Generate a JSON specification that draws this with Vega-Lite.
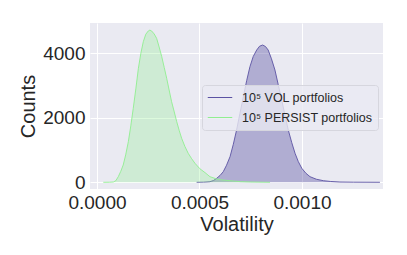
{
  "$schema": "https://vega.github.io/schema/vega-lite/v6.json",
  "width": 293,
  "height": 166,
  "autosize": "none",
  "padding": {"left": 90, "top": 23, "right": 24, "bottom": 66},
  "background": "white",
  "config": {
    "view": {"fill": "#EAEAF2", "stroke": null},
    "font": "Liberation Sans"
  },
  "datasets": {
    "curves": [
      {"series": "10⁵ VOL portfolios", "vol": 0.000486, "count": 0},
      {"series": "10⁵ VOL portfolios", "vol": 0.00052, "count": 5},
      {"series": "10⁵ VOL portfolios", "vol": 0.000551, "count": 19},
      {"series": "10⁵ VOL portfolios", "vol": 0.000568, "count": 55},
      {"series": "10⁵ VOL portfolios", "vol": 0.000584, "count": 124},
      {"series": "10⁵ VOL portfolios", "vol": 0.0006, "count": 210},
      {"series": "10⁵ VOL portfolios", "vol": 0.000616, "count": 329},
      {"series": "10⁵ VOL portfolios", "vol": 0.000632, "count": 530},
      {"series": "10⁵ VOL portfolios", "vol": 0.000649, "count": 794},
      {"series": "10⁵ VOL portfolios", "vol": 0.000665, "count": 1180},
      {"series": "10⁵ VOL portfolios", "vol": 0.000681, "count": 1622},
      {"series": "10⁵ VOL portfolios", "vol": 0.000697, "count": 2130},
      {"series": "10⁵ VOL portfolios", "vol": 0.000714, "count": 2654},
      {"series": "10⁵ VOL portfolios", "vol": 0.00073, "count": 3150},
      {"series": "10⁵ VOL portfolios", "vol": 0.000746, "count": 3585},
      {"series": "10⁵ VOL portfolios", "vol": 0.000762, "count": 3900},
      {"series": "10⁵ VOL portfolios", "vol": 0.000779, "count": 4102},
      {"series": "10⁵ VOL portfolios", "vol": 0.000793, "count": 4220},
      {"series": "10⁵ VOL portfolios", "vol": 0.000808, "count": 4257},
      {"series": "10⁵ VOL portfolios", "vol": 0.000822, "count": 4210},
      {"series": "10⁵ VOL portfolios", "vol": 0.000835, "count": 4102},
      {"series": "10⁵ VOL portfolios", "vol": 0.000851, "count": 3830},
      {"series": "10⁵ VOL portfolios", "vol": 0.000868, "count": 3482},
      {"series": "10⁵ VOL portfolios", "vol": 0.000884, "count": 3030},
      {"series": "10⁵ VOL portfolios", "vol": 0.000901, "count": 2552},
      {"series": "10⁵ VOL portfolios", "vol": 0.000917, "count": 2080},
      {"series": "10⁵ VOL portfolios", "vol": 0.000933, "count": 1622},
      {"series": "10⁵ VOL portfolios", "vol": 0.00095, "count": 1230},
      {"series": "10⁵ VOL portfolios", "vol": 0.000966, "count": 900},
      {"series": "10⁵ VOL portfolios", "vol": 0.000982, "count": 640},
      {"series": "10⁵ VOL portfolios", "vol": 0.000999, "count": 434},
      {"series": "10⁵ VOL portfolios", "vol": 0.001019, "count": 280},
      {"series": "10⁵ VOL portfolios", "vol": 0.001039, "count": 174},
      {"series": "10⁵ VOL portfolios", "vol": 0.00107, "count": 95},
      {"series": "10⁵ VOL portfolios", "vol": 0.001104, "count": 50},
      {"series": "10⁵ VOL portfolios", "vol": 0.00114, "count": 25},
      {"series": "10⁵ VOL portfolios", "vol": 0.001185, "count": 9},
      {"series": "10⁵ VOL portfolios", "vol": 0.00125, "count": 3},
      {"series": "10⁵ VOL portfolios", "vol": 0.00138, "count": 0},
      {"series": "10⁵ PERSIST portfolios", "vol": 0.000031, "count": 0},
      {"series": "10⁵ PERSIST portfolios", "vol": 0.00006, "count": 2},
      {"series": "10⁵ PERSIST portfolios", "vol": 0.00008, "count": 10},
      {"series": "10⁵ PERSIST portfolios", "vol": 0.000092, "count": 50},
      {"series": "10⁵ PERSIST portfolios", "vol": 0.000104, "count": 174},
      {"series": "10⁵ PERSIST portfolios", "vol": 0.000116, "count": 340},
      {"series": "10⁵ PERSIST portfolios", "vol": 0.000128, "count": 536},
      {"series": "10⁵ PERSIST portfolios", "vol": 0.00014, "count": 850},
      {"series": "10⁵ PERSIST portfolios", "vol": 0.000153, "count": 1259},
      {"series": "10⁵ PERSIST portfolios", "vol": 0.000165, "count": 1750},
      {"series": "10⁵ PERSIST portfolios", "vol": 0.000177, "count": 2295},
      {"series": "10⁵ PERSIST portfolios", "vol": 0.00019, "count": 2920},
      {"series": "10⁵ PERSIST portfolios", "vol": 0.000202, "count": 3535},
      {"series": "10⁵ PERSIST portfolios", "vol": 0.000214, "count": 4000},
      {"series": "10⁵ PERSIST portfolios", "vol": 0.000226, "count": 4360},
      {"series": "10⁵ PERSIST portfolios", "vol": 0.000238, "count": 4590},
      {"series": "10⁵ PERSIST portfolios", "vol": 0.00025, "count": 4691},
      {"series": "10⁵ PERSIST portfolios", "vol": 0.000258, "count": 4720},
      {"series": "10⁵ PERSIST portfolios", "vol": 0.000267, "count": 4690},
      {"series": "10⁵ PERSIST portfolios", "vol": 0.000279, "count": 4600},
      {"series": "10⁵ PERSIST portfolios", "vol": 0.000291, "count": 4465},
      {"series": "10⁵ PERSIST portfolios", "vol": 0.000303, "count": 4200},
      {"series": "10⁵ PERSIST portfolios", "vol": 0.000316, "count": 3895},
      {"series": "10⁵ PERSIST portfolios", "vol": 0.000328, "count": 3560},
      {"series": "10⁵ PERSIST portfolios", "vol": 0.00034, "count": 3225},
      {"series": "10⁵ PERSIST portfolios", "vol": 0.000352, "count": 2860},
      {"series": "10⁵ PERSIST portfolios", "vol": 0.000364, "count": 2499},
      {"series": "10⁵ PERSIST portfolios", "vol": 0.000377, "count": 2180},
      {"series": "10⁵ PERSIST portfolios", "vol": 0.000389, "count": 1879},
      {"series": "10⁵ PERSIST portfolios", "vol": 0.000401, "count": 1610},
      {"series": "10⁵ PERSIST portfolios", "vol": 0.000413, "count": 1364},
      {"series": "10⁵ PERSIST portfolios", "vol": 0.000429, "count": 1110},
      {"series": "10⁵ PERSIST portfolios", "vol": 0.000445, "count": 899},
      {"series": "10⁵ PERSIST portfolios", "vol": 0.000462, "count": 730},
      {"series": "10⁵ PERSIST portfolios", "vol": 0.000478, "count": 589},
      {"series": "10⁵ PERSIST portfolios", "vol": 0.000502, "count": 420},
      {"series": "10⁵ PERSIST portfolios", "vol": 0.000527, "count": 300},
      {"series": "10⁵ PERSIST portfolios", "vol": 0.000551, "count": 174},
      {"series": "10⁵ PERSIST portfolios", "vol": 0.000585, "count": 100},
      {"series": "10⁵ PERSIST portfolios", "vol": 0.000616, "count": 71},
      {"series": "10⁵ PERSIST portfolios", "vol": 0.000665, "count": 40},
      {"series": "10⁵ PERSIST portfolios", "vol": 0.0007, "count": 20},
      {"series": "10⁵ PERSIST portfolios", "vol": 0.00075, "count": 10},
      {"series": "10⁵ PERSIST portfolios", "vol": 0.0008, "count": 4},
      {"series": "10⁵ PERSIST portfolios", "vol": 0.000844, "count": 0}
    ]
  },
  "data": {"name": "curves"},
  "encoding": {
    "x": {
      "field": "vol", "type": "quantitative",
      "scale": {"domain": [-0.000034, 0.001395], "nice": false, "zero": false},
      "axis": {
        "title": "Volatility", "values": [0, 0.0005, 0.001], "format": ".4f",
        "labelFontSize": 19, "labelColor": "#262626", "titleFontSize": 20, "titleColor": "#262626",
        "titleFontWeight": "normal", "domain": false, "ticks": false, "labelPadding": 4, "titlePadding": 2,
        "grid": true, "gridColor": "white", "gridWidth": 1, "gridOpacity": 1
      }
    },
    "y": {
      "field": "count", "type": "quantitative", "stack": null,
      "scale": {"domain": [-208, 4940], "nice": false, "zero": false},
      "axis": {
        "title": "Counts", "values": [0, 2000, 4000], "format": "d",
        "labelFontSize": 19, "labelColor": "#262626", "titleFontSize": 20, "titleColor": "#262626",
        "titleFontWeight": "normal", "domain": false, "ticks": false, "labelPadding": 5, "titlePadding": 4,
        "grid": true, "gridColor": "white", "gridWidth": 1, "gridOpacity": 1
      }
    },
    "color": {
      "field": "series", "type": "nominal",
      "scale": {"domain": ["10⁵ VOL portfolios", "10⁵ PERSIST portfolios"], "range": ["#5b52a3", "#90EE90"]},
      "legend": {
        "title": null, "orient": "none", "legendX": 112, "legendY": 62,
        "symbolType": "stroke", "symbolSize": 600, "symbolStrokeWidth": 1, "symbolOpacity": 1,
        "clipHeight": 15, "rowPadding": 5,
        "labelFontSize": 12.5, "labelColor": "#262626",
        "fillColor": "rgba(234,234,242,0.8)", "strokeColor": "#d6d6de", "cornerRadius": 3,
        "padding": 5, "labelOffset": 9
      }
    }
  },
  "layer": [
    {
      "transform": [{"filter": "datum.series === '10⁵ VOL portfolios'"}],
      "mark": {"type": "area", "fillOpacity": 0.4, "line": {"strokeWidth": 0.9}}
    },
    {
      "transform": [{"filter": "datum.series === '10⁵ PERSIST portfolios'"}],
      "mark": {"type": "area", "fillOpacity": 0.3, "line": {"strokeWidth": 0.9}}
    }
  ]
}
